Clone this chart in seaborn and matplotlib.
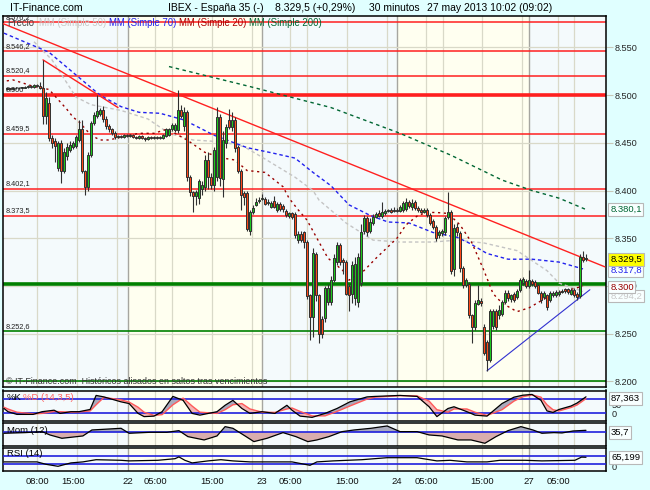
import numpy as np
import pandas as pd
import matplotlib
matplotlib.use("Agg")
import matplotlib.pyplot as plt
import seaborn as sns

# ---- candles (30 min) ----
opens = [
    8506, 8507, 8506, 8508, 8507, 8508, 8508, 8509, 8510, 8509,
    8511, 8510, 8507, 8478, 8492, 8455, 8452, 8424, 8450, 8421,
    8436, 8442, 8446, 8447, 8453, 8465, 8420, 8404, 8437, 8471,
    8478, 8480, 8484, 8475, 8468, 8464, 8460, 8456, 8457, 8456,
    8458, 8457, 8458, 8456, 8455, 8457, 8455, 8454, 8456, 8455,
    8456, 8455, 8455, 8457, 8458, 8464, 8463, 8463, 8484, 8468,
    8482, 8414, 8398, 8394, 8392, 8402, 8404, 8432, 8414, 8406,
    8414, 8477, 8412, 8450, 8474, 8467, 8474, 8446, 8421, 8397,
    8397, 8358, 8377, 8385, 8389, 8391, 8391, 8387, 8383, 8389,
    8380, 8386, 8384, 8379, 8373, 8376, 8375, 8348, 8354, 8356,
    8346, 8290, 8267, 8333, 8290, 8265, 8266, 8283, 8283, 8306,
    8325, 8343, 8327, 8325, 8300, 8292, 8287, 8283, 8303, 8358,
    8371, 8358, 8366, 8372, 8376, 8373, 8376, 8379, 8380, 8379,
    8380, 8379, 8380, 8381, 8388, 8383, 8388, 8382, 8380, 8378,
    8380, 8374, 8368, 8362, 8353, 8355, 8356, 8372, 8378, 8318,
    8362, 8355, 8319, 8301, 8302, 8269, 8257, 8281, 8284, 8257,
    8241, 8222, 8258, 8274, 8270, 8271, 8283, 8293, 8286, 8292,
    8288, 8296, 8303, 8305, 8300, 8305, 8304, 8301, 8293, 8288,
    8290, 8285, 8290, 8290, 8291, 8294, 8297, 8297, 8292, 8296,
    8292, 8289, 8330, 8328]
closes = [
    8507, 8506, 8508, 8507, 8508, 8508, 8509, 8510, 8509, 8511,
    8510, 8507, 8478, 8497, 8455, 8450, 8447, 8450, 8421, 8440,
    8446, 8448, 8450, 8456, 8465, 8420, 8404, 8437, 8471, 8479,
    8483, 8484, 8475, 8468, 8464, 8460, 8456, 8457, 8456, 8458,
    8457, 8458, 8456, 8455, 8457, 8455, 8454, 8456, 8455, 8456,
    8455, 8456, 8458, 8464, 8464, 8469, 8469, 8484, 8478, 8482,
    8414, 8398, 8394, 8398, 8410, 8406, 8432, 8414, 8406, 8443,
    8477, 8413, 8453, 8467, 8467, 8474, 8445, 8421, 8395, 8393,
    8360, 8377, 8382, 8388, 8390, 8392, 8386, 8387, 8387, 8383,
    8386, 8381, 8381, 8374, 8376, 8372, 8353, 8354, 8348, 8346,
    8289, 8267, 8335, 8290, 8250, 8250, 8298, 8298, 8306, 8329,
    8343, 8325, 8325, 8292, 8290, 8322, 8323, 8330, 8356, 8371,
    8357, 8367, 8372, 8375, 8373, 8377, 8379, 8379, 8378, 8380,
    8379, 8383, 8387, 8388, 8384, 8387, 8382, 8380, 8378, 8380,
    8374, 8366, 8362, 8350, 8357, 8358, 8371, 8378, 8316, 8361,
    8356, 8319, 8301, 8306, 8269, 8257, 8282, 8285, 8282, 8230,
    8222, 8274, 8274, 8257, 8275, 8283, 8293, 8287, 8290, 8285,
    8295, 8306, 8307, 8300, 8306, 8302, 8300, 8293, 8285, 8293,
    8278, 8293, 8293, 8294, 8294, 8295, 8295, 8294, 8296, 8290,
    8288, 8330, 8327, 8329.5]
highs = [
    8508, 8508, 8509, 8509, 8509, 8509, 8510, 8511, 8511, 8512,
    8512, 8514, 8537, 8503, 8498, 8458, 8455, 8452, 8453, 8445,
    8450, 8452, 8452, 8458, 8474, 8474, 8422, 8440, 8473, 8482,
    8500, 8487, 8489, 8478, 8470, 8466, 8462, 8458, 8458, 8459,
    8459, 8459, 8459, 8457, 8458, 8458, 8456, 8457, 8457, 8457,
    8457, 8457, 8459, 8466, 8466, 8471, 8471, 8505, 8490, 8488,
    8484, 8416, 8400, 8401, 8412, 8410, 8437, 8440, 8418, 8446,
    8488, 8480, 8462, 8470, 8485, 8482, 8477, 8448, 8423, 8399,
    8399, 8380, 8385, 8392, 8393, 8396, 8393, 8391, 8389, 8394,
    8388, 8388, 8386, 8381, 8378, 8378, 8377, 8358, 8358, 8358,
    8348, 8292, 8340, 8336, 8292, 8268, 8300, 8302, 8310, 8333,
    8346, 8345, 8329, 8327, 8302, 8326, 8330, 8335, 8365, 8374,
    8373, 8371, 8375, 8378, 8380, 8388, 8381, 8381, 8382, 8383,
    8382, 8385, 8389, 8392, 8390, 8391, 8390, 8384, 8382, 8382,
    8382, 8376, 8370, 8364, 8359, 8360, 8373, 8398, 8380, 8365,
    8366, 8358, 8321, 8308, 8304, 8271, 8285, 8301, 8287, 8260,
    8243, 8276, 8276, 8276, 8280, 8285, 8296, 8296, 8292, 8294,
    8297, 8308, 8309, 8307, 8317, 8307, 8306, 8303, 8295, 8295,
    8292, 8295, 8295, 8296, 8296, 8297, 8298, 8298, 8298, 8298,
    8294, 8333, 8337, 8333]
lows = [
    8505, 8505, 8505, 8506, 8506, 8507, 8507, 8508, 8508, 8508,
    8509, 8506, 8470, 8470, 8452, 8445, 8430, 8420, 8408, 8418,
    8432, 8440, 8444, 8445, 8451, 8418, 8395, 8400, 8435, 8469,
    8476, 8478, 8472, 8465, 8461, 8458, 8454, 8455, 8455, 8455,
    8456, 8456, 8455, 8454, 8454, 8454, 8452, 8453, 8454, 8454,
    8454, 8454, 8454, 8456, 8457, 8462, 8461, 8460, 8476, 8462,
    8410, 8394, 8378, 8385, 8386, 8395, 8400, 8402, 8402, 8400,
    8410, 8405, 8393, 8445, 8464, 8462, 8440, 8418, 8380, 8385,
    8358, 8353, 8375, 8384, 8387, 8390, 8385, 8385, 8382, 8382,
    8378, 8379, 8378, 8372, 8371, 8370, 8350, 8345, 8346, 8340,
    8286, 8243, 8246, 8284, 8240, 8245, 8262, 8280, 8280, 8304,
    8322, 8322, 8312, 8290, 8274, 8282, 8280, 8278, 8300, 8354,
    8352, 8355, 8364, 8371, 8372, 8371, 8374, 8377, 8376, 8378,
    8377, 8377, 8378, 8379, 8382, 8380, 8380, 8378, 8376, 8376,
    8372, 8364, 8360, 8347, 8350, 8352, 8353, 8370, 8312, 8310,
    8352, 8315, 8298, 8299, 8266, 8240, 8254, 8280, 8279, 8228,
    8211, 8220, 8255, 8254, 8265, 8268, 8281, 8284, 8283, 8283,
    8286, 8294, 8301, 8298, 8298, 8300, 8298, 8291, 8282, 8286,
    8275, 8283, 8288, 8288, 8289, 8293, 8293, 8292, 8290, 8288,
    8285, 8287, 8325, 8326]

# ---- moving averages (bar index, value) ----
ma20_bar = [-2, 2, 9, 14, 18, 20, 22, 24, 28, 31, 34, 38, 44, 49, 53, 56, 60, 66, 72, 76,
            80, 86, 88, 92, 94, 97, 100, 104, 107, 109, 112, 114, 119, 123, 127, 130, 133,
            137, 140, 143, 147, 151, 155, 159, 162, 165, 170, 174, 180, 184, 190, 192]
ma20_val = [8514, 8516, 8509, 8506, 8492, 8485, 8477, 8472, 8458, 8453, 8453, 8456, 8460,
            8460, 8464, 8460, 8453, 8440, 8434, 8432, 8421, 8419, 8414, 8404, 8392, 8380,
            8369, 8346, 8329, 8324, 8316, 8306, 8316, 8329, 8341, 8350, 8364, 8374, 8377,
            8377, 8376, 8364, 8345, 8316, 8292, 8282, 8273, 8277, 8288, 8293, 8298, 8300]
ma50_bar = [9, 15, 23, 28, 38, 47, 54, 62, 72, 79, 85, 96, 102, 104, 113, 122, 131, 142,
            150, 159, 170, 180, 184, 192]
ma50_val = [8556, 8537, 8498, 8490, 8484, 8475, 8460, 8453, 8451, 8446, 8435, 8414, 8400,
            8390, 8366, 8348, 8346, 8346, 8348, 8345, 8337, 8316, 8303, 8294.2]
ma70_bar = [-1, 14, 31, 38, 44, 51, 59, 69, 80, 89, 96, 102, 108, 114, 121, 127, 134, 142,
            150, 154, 160, 167, 175, 184, 192]
ma70_val = [8565, 8545, 8500, 8488, 8482, 8481, 8474, 8458, 8445, 8439, 8434, 8419, 8405,
            8385, 8374, 8367, 8366, 8356, 8351, 8345, 8334, 8328, 8328, 8325, 8317.8]
ma200_bar = [54, 81, 108, 131, 148, 165, 175, 184, 193]
ma200_val = [8530, 8509, 8487, 8460, 8437, 8411, 8400, 8392, 8380.1]

# ---- drawn lines ----
red_levels = [8576.2, 8546.2, 8520.4, 8500, 8459.5, 8402.1, 8373.5]
red_labels = ["8.576,2", "8.546,2", "8.520,4", "8.500", "8.459,5", "8.402,1", "8.373,5"]
green_levels = [8302, 8252.6, 8200]
trend_red_bar, trend_red_val = [-1.33, 199.3], [8575, 8320]
trend_red2_bar, trend_red2_val = [12, 37], [8537, 8487]
trend_blue_bar, trend_blue_val = [160, 194.3], [8211, 8296]

# ---- indicators ----
stoch_bar = [-1, 0.3, 3.3, 8.7, 11.7, 15.7, 17.7, 21.3, 24, 27.7, 29.7, 32.3, 38, 40.7,
             43.7, 45.7, 49, 51.7, 55.3, 58.7, 61.7, 64.3, 70, 72.7, 75.3, 78.3, 81, 85,
             89.3, 93.3, 95, 97.7, 101.7, 106, 110, 114.3, 120, 122.7, 131, 136.7, 140.7,
             143.3, 147, 149, 153.3, 156, 160, 165, 169, 172, 175, 178, 180, 182, 184,
             188, 190, 193]
stoch_k = [40, 27, 16, 16, 27, 33, 20, 27, 27, 36, 93, 87, 67, 60, 20, 7, 9, 27, 89, 73,
           20, 13, 27, 53, 73, 40, 20, 27, 20, 53, 33, 9, 4, 20, 40, 67, 87, 89, 93, 89,
           47, 7, 40, 47, 27, 13, 9, 60, 86, 94, 97, 73, 30, 24, 36, 50, 62, 87.4]
stoch_d = [45, 38, 25, 18, 20, 28, 27, 25, 26, 30, 55, 85, 75, 66, 45, 25, 12, 15, 55, 82,
           50, 25, 20, 35, 55, 60, 38, 25, 24, 38, 42, 28, 10, 10, 28, 50, 78, 86, 92, 91,
           70, 35, 25, 38, 38, 25, 12, 35, 70, 88, 95, 86, 55, 35, 30, 44, 54, 80]
mom_bar = [-1, 6, 11.7, 14.3, 18.3, 25.3, 28.3, 32.3, 38, 40.7, 47.7, 53.3, 57.3, 60.3,
           65.7, 70, 72.7, 75.3, 79.7, 82.3, 86.7, 92, 96.3, 100.3, 103.3, 107.3, 111.7,
           115.7, 121.3, 126.7, 131, 136.7, 140.7, 145, 150.3, 154.7, 159.3, 163, 167,
           171.3, 175.3, 178.3, 182.3, 185, 188.7, 193]
mom_val = [-18, -6, 12, -48, -108, -66, 42, 54, 72, -18, 0, 0, 30, -78, -138, -66, 102, 72,
           -78, -168, -108, -6, -78, -168, -138, -78, 12, 42, 72, 114, 12, 12, -48, -66,
           -138, -138, -198, -78, 30, 102, 42, -18, -6, -12, 24, 35.7]
rsi_bar = [-1, 10, 13, 17, 21.3, 25.3, 29.7, 38, 40.7, 50.3, 56, 57.3, 59.3, 61.7, 67,
           71.3, 75.3, 81, 95, 101, 103.3, 108.7, 118.3, 126.7, 136.7, 143.3, 147.7, 153.3,
           160, 164.3, 172.7, 178.3, 189.3, 191.5, 193]
rsi_val = [42, 42, 30, 20, 37, 42, 53, 50, 47, 50, 58, 67, 50, 37, 47, 53, 47, 42, 42, 25,
           42, 47, 53, 63, 63, 47, 50, 42, 42, 50, 50, 47, 50, 66, 65.2]

tick_labels = ["08:00", "15:00", "22", "05:00", "15:00", "23", "05:00", "15:00", "24",
               "05:00", "15:00", "27", "05:00"]

# ---- layout (pixels of the 650x490 picture) ----
W, H = 650, 490
BG = "#e0ffff"
DAY_COLS = ["#f4fafc", "#fffff0"]


def to_bar(px):
    return (px - 7) / 3.0


def px_box(x0, y0, x1, y1):
    return [x0 / W, 1 - y1 / H, (x1 - x0) / W, (y1 - y0) / H]


def ftext(x, y, s, **kw):
    kw.setdefault("va", "center")
    return fig.text(x / W, 1 - y / H, s, **kw)


tick_px = [37, 73, 128, 155, 212, 262, 290, 347, 397, 426, 482, 529, 558]
grid_px = [37, 77, 117, 155, 172, 212, 252, 290, 307, 347, 387, 426, 443, 482, 522, 558, 574]
sep_px = [128, 262, 397, 529]
x_lim = (to_bar(3), to_bar(606))
day_edges = [x_lim[0]] + [to_bar(p) for p in sep_px] + [x_lim[1]]

sns.set_style("white")
plt.rcParams["font.family"] = ["Liberation Sans", "DejaVu Sans"]

fig = plt.figure(figsize=(6.5, 4.9), dpi=100, facecolor=BG)
ax = fig.add_axes(px_box(3, 16, 606, 387))
ax_st = fig.add_axes(px_box(3, 390.5, 606, 420.7))
ax_mom = fig.add_axes(px_box(3, 423.3, 606, 446))
ax_rsi = fig.add_axes(px_box(3, 448.3, 606, 470.7))


def style_panel(a):
    a.set_xlim(*x_lim)
    for i in range(len(day_edges) - 1):
        a.axvspan(day_edges[i], day_edges[i + 1], color=DAY_COLS[i % 2], lw=0, zorder=0)
    for g in grid_px:
        a.axvline(to_bar(g), color="#d9d9c8", lw=0.9, zorder=1)
    for s in sep_px:
        a.axvline(to_bar(s), color="#a6a6a0", lw=1.0, zorder=1)
    for sp in a.spines.values():
        sp.set_color("black")
        sp.set_linewidth(1.1)
    a.tick_params(left=False, bottom=False, labelleft=False, labelbottom=False)


for a in (ax, ax_st, ax_mom, ax_rsi):
    style_panel(a)

# ---- main price panel ----
ax.set_ylim(8194, 8583)
yt = list(range(8200, 8551, 50))
ax.set_yticks(yt)
ax.set_yticklabels([f"8.{v - 8000:03d}" for v in yt])
ax.yaxis.tick_right()
ax.tick_params(axis="y", right=True, labelright=True, length=5, width=0.8,
               color="#c8c8b8", pad=1.5, labelsize=6.6)
for v in yt:
    ax.axhline(v, color="#d9d9c8", lw=0.9, zorder=1)

for lv in red_levels:
    ax.axhline(lv, color="#ff2020", lw=2.6 if lv == 8500 else 1.1, zorder=2)
for lv in green_levels:
    ax.axhline(lv, color="#008000", lw=2.6 if lv == 8302 else 1.2, zorder=2)
for lv, lab in zip(red_levels + [8252.6], red_labels + ["8.252,6"]):
    ax.annotate(lab, xy=(0, lv), xycoords=("axes fraction", "data"), xytext=(2.2, 1),
                textcoords="offset points", fontsize=5.3, color="#222222", va="bottom",
                zorder=6)

ma_style = dict(lw=1.0, zorder=3, legend=False)
sns.lineplot(x=ma200_bar, y=ma200_val, ax=ax, color="#006633", linestyle=(0, (2.5, 2.5)), **ma_style)
sns.lineplot(x=ma50_bar, y=ma50_val, ax=ax, color="#c4c4c4", linestyle=(0, (2.5, 2)), **ma_style)
sns.lineplot(x=ma70_bar, y=ma70_val, ax=ax, color="#2222ee", linestyle=(0, (2.5, 2)), **ma_style)
sns.lineplot(x=ma20_bar, y=ma20_val, ax=ax, color="#990000", linestyle=(0, (1.6, 2.6)), **ma_style)

ax.plot(trend_red_bar, trend_red_val, color="#ff2020", lw=1.0, zorder=3)
ax.plot(trend_red2_bar, trend_red2_val, color="#ff2020", lw=1.0, zorder=3)
ax.plot(trend_blue_bar, trend_blue_val, color="#3030d0", lw=0.8, zorder=3)

df = pd.DataFrame({"o": opens, "h": highs, "l": lows, "c": closes})
up = df["c"] >= df["o"]
ax.vlines(df.index, df["l"], df["h"], color="#303030", lw=0.8, zorder=4)
ax.bar(df.index, (df["c"] - df["o"]).abs().clip(lower=0.9), bottom=df[["o", "c"]].min(axis=1),
       width=0.72, color=np.where(up, "#1ec81e", "#ff4a1a"), edgecolor="#303030",
       linewidth=0.7, zorder=5)


# right-side value boxes
def right_box(a, val, txt, col, fc="#f8ffff", dy=0, z=7):
    a.annotate(txt, xy=(1, val), xycoords=("axes fraction", "data"), xytext=(3, dy),
               textcoords="offset points", fontsize=6.8, color=col, ha="left", va="center",
               bbox=dict(boxstyle="square,pad=0.18", fc=fc, ec="#b8b8b8", lw=0.8),
               annotation_clip=False, zorder=z)


right_box(ax, ma200_val[-1], "8.380,1", "#006633")
right_box(ax, ma50_val[-1], "8.294,2", "#c8c8c8", dy=-3.5, z=6)
right_box(ax, ma20_val[-1], "8.300", "#990000", dy=-1)
right_box(ax, ma70_val[-1], "8.317,8", "#2222ee", dy=-1.2)
right_box(ax, closes[-1], "8.329,5", "black", fc="#ffff00", dy=-1.2)

# ---- stochastic ----
k, d = np.array(stoch_k), np.array(stoch_d)
ax_st.set_ylim(-9.6, 113)
ax_st.fill_between(stoch_bar, k, d, where=k >= d, interpolate=True, color="#a9abbd", lw=0, zorder=2)
ax_st.fill_between(stoch_bar, k, d, where=k < d, interpolate=True, color="#f2b4b4", lw=0, zorder=2)
for lv in (80, 20):
    ax_st.axhline(lv, color="#2020dd", lw=1.2, zorder=3)
sns.lineplot(x=stoch_bar, y=stoch_d, ax=ax_st, color="#ff5a5a", lw=1.0, zorder=4)
sns.lineplot(x=stoch_bar, y=stoch_k, ax=ax_st, color="black", lw=0.9, zorder=5)

# ---- momentum ----
m = np.array(mom_val)
ax_mom.set_ylim(-247, 162)
ax_mom.fill_between(mom_bar, m, 0, where=m >= 0, interpolate=True, color="#a9abbd", lw=0, zorder=2)
ax_mom.fill_between(mom_bar, m, 0, where=m < 0, interpolate=True, color="#d9adad", lw=0, zorder=2)
ax_mom.axhline(0, color="#2020dd", lw=1.2, zorder=3)
sns.lineplot(x=mom_bar, y=mom_val, ax=ax_mom, color="black", lw=0.9, zorder=4)

# ---- RSI ----
ax_rsi.set_ylim(-2, 110)
for lv in (70, 30):
    ax_rsi.axhline(lv, color="#2020dd", lw=1.2, zorder=3)
sns.lineplot(x=rsi_bar, y=rsi_val, ax=ax_rsi, color="black", lw=0.9, zorder=4)

for a in (ax, ax_st, ax_mom, ax_rsi):
    a.set_xlim(*x_lim)
    a.set_xlabel("")
    a.set_ylabel("")

ax_rsi.set_xticks([to_bar(p) for p in tick_px])
ax_rsi.set_xticklabels(tick_labels)
ax_rsi.tick_params(axis="x", bottom=False, labelbottom=True, length=0, pad=4.5,
                   labelsize=6.8, labelcolor="#111111")

# ---- texts ----
ftext(10, 8, "IT-Finance.com", fontsize=7.6, color="black")
ftext(168, 8, "IBEX - España 35 (-)", fontsize=7.5, color="black")
ftext(275, 8, "8.329,5 (+0,29%)", fontsize=7.5, color="black")
ftext(369, 8, "30 minutos", fontsize=7.5, color="black")
ftext(427, 8, "27 may 2013 10:02 (09:02)", fontsize=7.5, color="black")

ftext(7, 22.5, "Precio", fontsize=6.9, color="#444444", zorder=8)
ftext(39, 22.5, "MM (Simple 50)", fontsize=6.9, color="#c8c8c8")
ftext(109, 22.5, "MM (Simple 70)", fontsize=6.9, color="#2222ee")
ftext(179, 22.5, "MM (Simple 20)", fontsize=6.9, color="#aa0000")
ftext(249, 22.5, "MM (Simple 200)", fontsize=6.9, color="#006633")

ftext(6, 381.5, "© IT-Finance.com  Históricos alisados en saltos tras vencimientos",
      fontsize=6.4, color="#333333")

ftext(7, 397, "%K", fontsize=6.8, color="black")
ftext(23, 397, "%D (14,3,5)", fontsize=6.8, color="#ff6060")
ftext(7, 430.5, "Mom (12)", fontsize=6.8, color="black")
ftext(7, 453.5, "RSI (14)", fontsize=6.8, color="black")

ftext(612, 405.5, "50", fontsize=6.6, color="#222222")
ftext(612, 414.5, "0", fontsize=6.6, color="#222222")
ftext(612, 467, "0", fontsize=6.6, color="#222222")
box = dict(boxstyle="square,pad=0.18", fc="#f8ffff", ec="#b8b8b8", lw=0.8)
ftext(611, 398.5, "87,363", fontsize=6.8, color="black", bbox=box)
ftext(611, 432.5, "35,7", fontsize=6.8, color="black", bbox=box)
ftext(611, 457.5, "65,199", fontsize=6.8, color="black", bbox=box)

fig.savefig("out.png", dpi=100, facecolor=BG)
